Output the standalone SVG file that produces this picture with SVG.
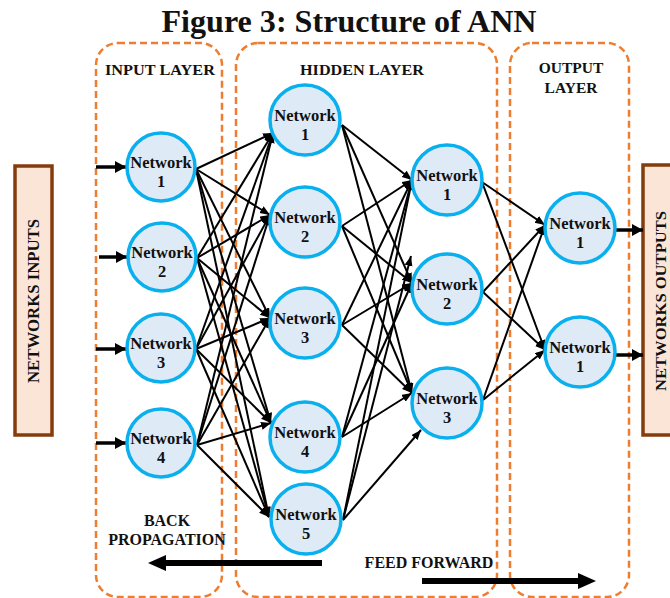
<svg xmlns="http://www.w3.org/2000/svg" width="670" height="598" viewBox="0 0 670 598">
<style>
.t{font-family:"Liberation Serif","Times New Roman",serif;font-weight:bold;fill:#111;text-anchor:middle}
.lay{fill:none;stroke:#ED7D31;stroke-width:2.5;stroke-dasharray:7,4}
.nd{fill:#DEEBF7;stroke:#0AB0EE;stroke-width:3.5}
.nt{font-size:16.5px}
.c{stroke:#000;stroke-width:2;fill:none;marker-end:url(#ah)}
.io{stroke:#000;stroke-width:3.5;fill:none;marker-end:url(#ahb)}
.side{fill:#FBE5D6;stroke:#843C0C;stroke-width:3.5}
</style>
<defs>
<marker id="ah" markerUnits="userSpaceOnUse" markerWidth="12" markerHeight="10" refX="10" refY="4" orient="auto"><path d="M0,0 L10,4 L0,8 z" fill="#000"/></marker>
<marker id="ahb" markerUnits="userSpaceOnUse" markerWidth="14" markerHeight="14" refX="11" refY="6" orient="auto"><path d="M0,0 L11,6 L0,12 z" fill="#000"/></marker>
</defs>
<rect width="670" height="598" fill="#fff"/>
<text class="t" x="349" y="32" font-size="32" textLength="375" lengthAdjust="spacingAndGlyphs">Figure 3: Structure of ANN</text>

<g id="input-layer"><rect class="lay" x="96" y="43" width="126" height="554" rx="22"/><text class="t" x="160" y="75" font-size="15.5" textLength="110" lengthAdjust="spacingAndGlyphs">INPUT LAYER</text></g>
<g id="hidden-layer"><rect class="lay" x="236" y="43" width="261" height="554" rx="22"/><text class="t" x="362" y="75" font-size="15.5" textLength="124" lengthAdjust="spacingAndGlyphs">HIDDEN LAYER</text></g>
<g id="output-layer"><rect class="lay" x="510" y="43" width="119" height="554" rx="22"/><text class="t" x="571" y="73" font-size="15.5">OUTPUT</text><text class="t" x="571" y="93" font-size="15.5">LAYER</text></g>

<g id="networks-inputs"><rect class="side" x="15" y="166" width="37" height="269"/><text class="t" transform="translate(39,301) rotate(-90)" font-size="16" textLength="164" lengthAdjust="spacingAndGlyphs">NETWORKS INPUTS</text></g>
<g id="networks-outputs"><rect class="side" x="643" y="165" width="40" height="270"/><text class="t" transform="translate(666,301) rotate(-90)" font-size="15.5" textLength="180" lengthAdjust="spacingAndGlyphs">NETWORKS OUTPUTS</text></g>

<g id="connectors">
<line class="io" x1="96" y1="167" x2="126" y2="167"/>
<line class="io" x1="99" y1="257" x2="127" y2="257"/>
<line class="io" x1="96" y1="349" x2="126" y2="349"/>
<line class="io" x1="96" y1="443" x2="126" y2="443"/>
<line class="c" x1="196" y1="169" x2="273" y2="133"/>
<line class="c" x1="196" y1="169" x2="270" y2="215"/>
<line class="c" x1="196" y1="169" x2="270" y2="318"/>
<line class="c" x1="196" y1="169" x2="271" y2="423"/>
<line class="c" x1="196" y1="169" x2="269" y2="517"/>
<line class="c" x1="197" y1="258" x2="273" y2="133"/>
<line class="c" x1="197" y1="258" x2="270" y2="215"/>
<line class="c" x1="197" y1="258" x2="270" y2="318"/>
<line class="c" x1="197" y1="258" x2="271" y2="423"/>
<line class="c" x1="197" y1="258" x2="269" y2="517"/>
<line class="c" x1="196" y1="349" x2="273" y2="133"/>
<line class="c" x1="196" y1="349" x2="270" y2="215"/>
<line class="c" x1="196" y1="349" x2="270" y2="318"/>
<line class="c" x1="196" y1="349" x2="271" y2="423"/>
<line class="c" x1="196" y1="349" x2="269" y2="517"/>
<line class="c" x1="197" y1="445" x2="273" y2="133"/>
<line class="c" x1="197" y1="445" x2="270" y2="215"/>
<line class="c" x1="197" y1="445" x2="270" y2="318"/>
<line class="c" x1="197" y1="445" x2="271" y2="423"/>
<line class="c" x1="197" y1="445" x2="269" y2="517"/>
<line class="c" x1="342" y1="125" x2="412" y2="180"/>
<line class="c" x1="342" y1="125" x2="412" y2="283"/>
<line class="c" x1="342" y1="125" x2="412" y2="393"/>
<line class="c" x1="342" y1="226" x2="412" y2="180"/>
<line class="c" x1="342" y1="226" x2="412" y2="283"/>
<line class="c" x1="342" y1="226" x2="412" y2="393"/>
<line class="c" x1="342" y1="325" x2="412" y2="180"/>
<line class="c" x1="342" y1="325" x2="412" y2="283"/>
<line class="c" x1="342" y1="325" x2="412" y2="393"/>
<line class="c" x1="342" y1="437" x2="412" y2="180"/>
<line class="c" x1="342" y1="437" x2="412" y2="283"/>
<line class="c" x1="342" y1="437" x2="412" y2="393"/>
<line class="c" x1="343" y1="520" x2="412" y2="180"/>
<line class="c" x1="343" y1="520" x2="411" y2="256"/>
<line class="c" x1="343" y1="520" x2="421" y2="430"/>
<line class="c" x1="482" y1="182" x2="545" y2="225"/>
<line class="c" x1="482" y1="182" x2="545" y2="350"/>
<line class="c" x1="483" y1="292" x2="545" y2="225"/>
<line class="c" x1="483" y1="292" x2="545" y2="350"/>
<line class="c" x1="483" y1="400" x2="545" y2="225"/>
<line class="c" x1="483" y1="400" x2="545" y2="350"/>
<line class="io" x1="615" y1="230" x2="643" y2="230"/>
<line class="io" x1="615" y1="355" x2="643" y2="355"/>
<line x1="322" y1="563" x2="164" y2="563" stroke="#000" stroke-width="6"/>
<path d="M148,563 L166,555 L166,571 z" fill="#000"/>
<line x1="422" y1="581" x2="580" y2="581" stroke="#000" stroke-width="6"/>
<path d="M596,581 L578,573 L578,589 z" fill="#000"/>
</g>

<g id="in1"><circle class="nd" cx="161" cy="167" r="34"/><text class="t nt" x="161" y="168">Network</text><text class="t nt" x="161" y="187">1</text></g>
<g id="in2"><circle class="nd" cx="162" cy="257" r="34"/><text class="t nt" x="162" y="258">Network</text><text class="t nt" x="162" y="277">2</text></g>
<g id="in3"><circle class="nd" cx="161" cy="348" r="34"/><text class="t nt" x="161" y="349">Network</text><text class="t nt" x="161" y="368">3</text></g>
<g id="in4"><circle class="nd" cx="161" cy="443" r="34"/><text class="t nt" x="161" y="444">Network</text><text class="t nt" x="161" y="463">4</text></g>

<g id="h1"><circle class="nd" cx="305" cy="120" r="35"/><text class="t nt" x="305" y="121">Network</text><text class="t nt" x="305" y="140">1</text></g>
<g id="h2"><circle class="nd" cx="305" cy="222" r="35"/><text class="t nt" x="305" y="223">Network</text><text class="t nt" x="305" y="242">2</text></g>
<g id="h3"><circle class="nd" cx="305" cy="323" r="35"/><text class="t nt" x="305" y="324">Network</text><text class="t nt" x="305" y="343">3</text></g>
<g id="h4"><circle class="nd" cx="305" cy="437" r="35"/><text class="t nt" x="305" y="438">Network</text><text class="t nt" x="305" y="457">4</text></g>
<g id="h5"><circle class="nd" cx="306" cy="519" r="35"/><text class="t nt" x="306" y="520">Network</text><text class="t nt" x="306" y="539">5</text></g>

<g id="h2n1"><circle class="nd" cx="447" cy="180" r="35"/><text class="t nt" x="447" y="181">Network</text><text class="t nt" x="447" y="200">1</text></g>
<g id="h2n2"><circle class="nd" cx="447" cy="289" r="35"/><text class="t nt" x="447" y="290">Network</text><text class="t nt" x="447" y="309">2</text></g>
<g id="h2n3"><circle class="nd" cx="447" cy="403" r="35"/><text class="t nt" x="447" y="404">Network</text><text class="t nt" x="447" y="423">3</text></g>

<g id="out1"><circle class="nd" cx="580" cy="228" r="35"/><text class="t nt" x="580" y="229">Network</text><text class="t nt" x="580" y="248">1</text></g>
<g id="out2"><circle class="nd" cx="580" cy="352" r="35"/><text class="t nt" x="580" y="353">Network</text><text class="t nt" x="580" y="372">1</text></g>

<g id="labels">
<text class="t" x="167" y="526" font-size="16">BACK</text>
<text class="t" x="167" y="545" font-size="16">PROPAGATION</text>
<text class="t" x="429" y="568" font-size="16">FEED FORWARD</text>
</g>
</svg>
